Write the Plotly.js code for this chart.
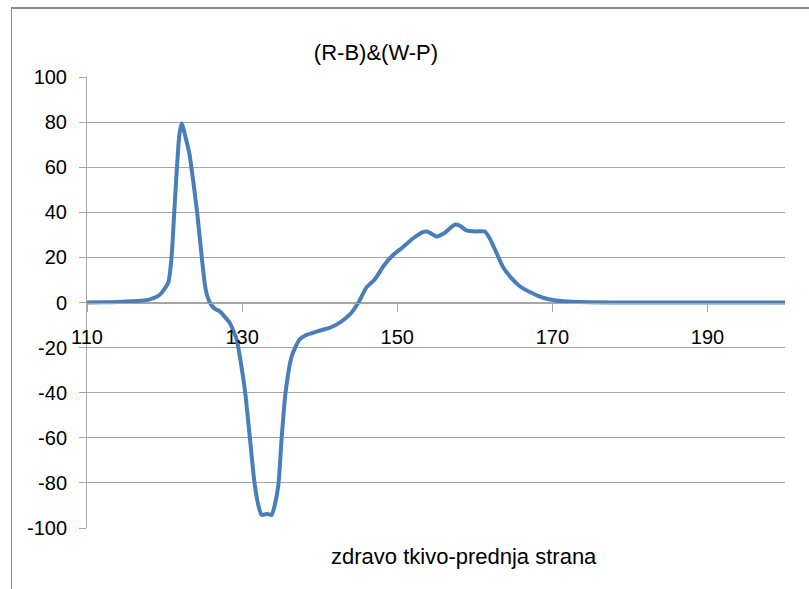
<!DOCTYPE html>
<html>
<head>
<meta charset="utf-8">
<script src="https://cdn.plot.ly/plotly-3.0.1.min.js"></script>
<style>
  html, body { margin: 0; padding: 0; background: #ffffff; }
  #wrap { position: relative; width: 809px; height: 589px; }
  #chart { width: 809px; height: 589px; }
  #frame { position: absolute; left: 11px; top: 7px; width: 820px; height: 600px;
           border-top: 2px solid #8a8a8a; border-left: 1.5px solid #8c8c8c;
           pointer-events: none; box-sizing: border-box; }
</style>
</head>
<body>
<div id="wrap">
  <div id="chart"></div>
  <div id="frame"></div>
</div>
<script>
// Wavelength (x) values
const xValues = [110, 112, 114, 116, 117, 118, 119, 119.5, 120, 120.5, 120.9, 121.25, 121.6, 121.9, 122.2,
  122.8, 123.2, 123.5, 124.2, 124.8, 125.2, 125.5, 126, 126.6, 127.1, 127.8, 128.4, 129.3, 129.7,
  130.4, 131, 131.6, 132.1, 132.5, 132.9, 133.3, 133.8, 134.2, 134.7, 135.1, 135.6, 136.4, 137.4,
  138.2, 139.2, 140.2, 141.3, 142.6, 143.9, 145, 146, 147.1, 148.2, 149.3, 150.6, 152.1, 153.3,
  153.8, 154.4, 155.1, 156.1, 157.4, 158.1, 158.9, 160.2, 161.3, 161.9, 162.8, 163.6, 164.7, 165.8,
  167.3, 168.8, 170.5, 172.6, 175, 180, 185, 190, 195, 200];
// (R-B)&(W-P) values
const yValues = [0, 0.1, 0.2, 0.5, 0.8, 1.3, 2.5, 3.8, 6, 9, 20, 40, 60, 74, 79.5,
  72, 66, 59, 40, 20, 8, 3, -1, -3, -3.8, -6.5, -9, -16.4, -23.8,
  -40, -60, -80, -90, -94.2, -94, -93.8, -94.2, -90, -80, -60, -40, -23.8, -16.4,
  -14.5, -13.4, -12.3, -11.2, -8.9, -5.3, 0, 6.5, 10.2, 16, 20.5, 24.2, 28.6, 31.2,
  31.5, 30.5, 29.3, 30.8, 34.5, 34, 32, 31.5, 31.5, 28.6, 22, 16, 10.9, 7.2,
  4.3, 2.1, 0.9, 0.3, 0.1, 0, 0, 0, 0, 0];
const xTicks = [110, 130, 150, 170, 190];
const yTicks = [100, 80, 60, 40, 20, 0, -20, -40, -60, -80, -100];
const chartTitle = '(R-B)&(W-P)';
const xTitle = 'zdravo tkivo-prednja strana';

const fontFam = '"Liberation Sans", Arial, sans-serif';
const grid = '#a6a6a6';

const trace = {
  x: xValues, y: yValues, type: 'scatter', mode: 'lines',
  line: { color: '#4a7ebb', width: 4, shape: 'spline', smoothing: 0.6 },
  hoverinfo: 'x+y'
};

const layout = {
  width: 809, height: 589,
  margin: { l: 87, r: 24, t: 77, b: 61 },
  paper_bgcolor: '#ffffff', plot_bgcolor: '#ffffff',
  showlegend: false,
  font: { family: fontFam, color: '#000000', size: 20 },
  title: {
    text: chartTitle, font: { family: fontFam, size: 22, color: '#000000' },
    xref: 'paper', x: 0.414, xanchor: 'center',
    yref: 'container', y: 0.912, yanchor: 'middle'
  },
  xaxis: {
    range: [110, 200], tickvals: xTicks, ticktext: xTicks.map(String),
    anchor: 'free', position: 0.5,
    showline: true, linecolor: grid, linewidth: 1,
    ticks: 'outside', ticklen: 8, tickcolor: grid, tickwidth: 1,
    showgrid: false, zeroline: false,
    tickfont: { family: fontFam, size: 20, color: '#000000' },
    ticklabelstandoff: 8
  },
  yaxis: {
    range: [-100, 100], tickvals: yTicks, ticktext: yTicks.map(String),
    showline: true, linecolor: grid, linewidth: 1,
    ticks: 'outside', ticklen: 7, tickcolor: grid, tickwidth: 1,
    showgrid: true, gridcolor: grid, gridwidth: 1, zeroline: false,
    tickfont: { family: fontFam, size: 20, color: '#000000' },
    ticklabelstandoff: 8
  },
  annotations: [{
    text: xTitle, xref: 'paper', yref: 'paper', x: 0.54, y: -0.064,
    xanchor: 'center', yanchor: 'middle', showarrow: false,
    font: { family: fontFam, size: 22, color: '#000000' }
  }]
};

Plotly.newPlot('chart', [trace], layout, { displayModeBar: false, staticPlot: true });
</script>
</body>
</html>
